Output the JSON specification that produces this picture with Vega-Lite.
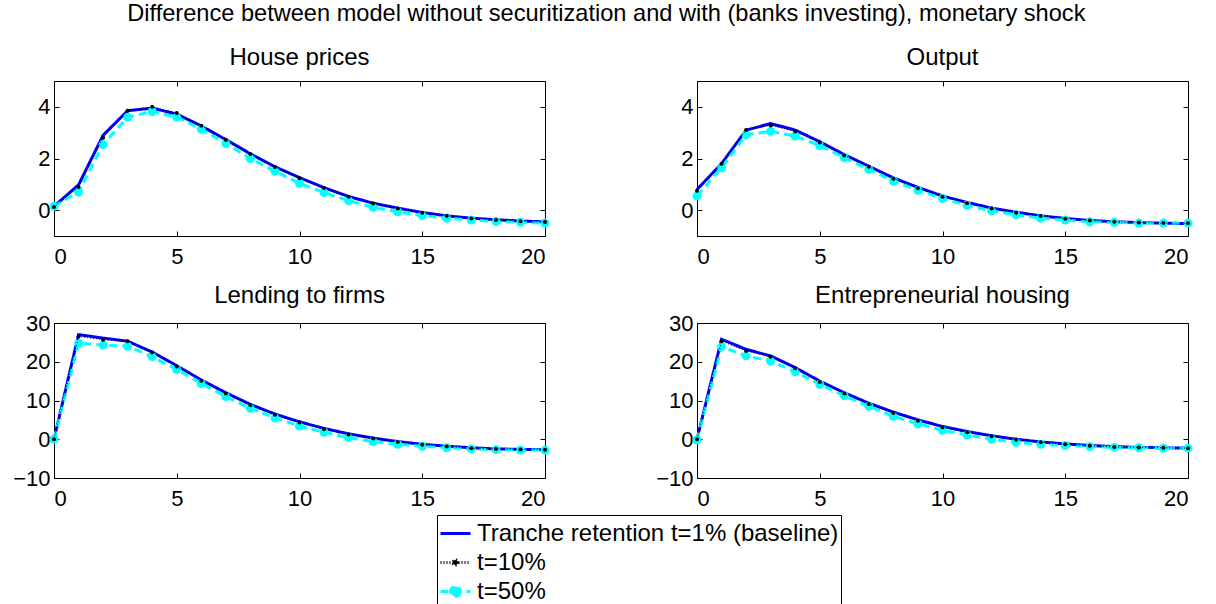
{
  "$schema": "https://vega.github.io/schema/vega-lite/v6.json",
  "autosize": {"type": "pad"},
  "padding": {"left": 12, "top": 2, "right": 0, "bottom": 0},
  "background": "white",
  "title": {"text": "Difference between model without securitization and with (banks investing), monetary shock", "fontSize": 23.6, "font": "Liberation Sans", "fontWeight": "normal", "color": "black", "anchor": "middle", "offset": 19, "dx": 3},
  "config": {
    "view": {"stroke": "black", "strokeWidth": 1},
    "axis": {"labelFont": "Liberation Sans", "labelFontSize": 22, "labelColor": "black", "tickColor": "black", "domainColor": "black", "grid": false, "tickSize": -5, "domain": false},
    "axisX": {"labelPadding": 15},
    "axisY": {"labelPadding": 9},
    "legend": {"labelFont": "Liberation Sans", "labelFontSize": 24, "labelColor": "black", "symbolType": "stroke", "symbolSize": 900, "symbolStrokeWidth": 3, "strokeColor": "black", "fillColor": "white", "padding": 2, "rowPadding": -2, "labelOffset": 5, "labelLimit": 500}
  },
  "data": {"values": [
    {"p":"House prices","t":0,"b":0.15,"k":0.12,"c":0.15},
    {"p":"House prices","t":1,"b":0.98,"k":0.9,"c":0.7},
    {"p":"House prices","t":2,"b":2.9,"k":2.8,"c":2.54},
    {"p":"House prices","t":3,"b":3.85,"k":3.85,"c":3.6},
    {"p":"House prices","t":4,"b":3.95,"k":4.0,"c":3.82},
    {"p":"House prices","t":5,"b":3.72,"k":3.76,"c":3.6},
    {"p":"House prices","t":6,"b":3.26,"k":3.27,"c":3.14},
    {"p":"House prices","t":7,"b":2.73,"k":2.72,"c":2.58},
    {"p":"House prices","t":8,"b":2.18,"k":2.17,"c":2.0},
    {"p":"House prices","t":9,"b":1.68,"k":1.67,"c":1.51},
    {"p":"House prices","t":10,"b":1.26,"k":1.24,"c":1.04},
    {"p":"House prices","t":11,"b":0.87,"k":0.86,"c":0.68},
    {"p":"House prices","t":12,"b":0.53,"k":0.52,"c":0.37},
    {"p":"House prices","t":13,"b":0.27,"k":0.26,"c":0.11},
    {"p":"House prices","t":14,"b":0.08,"k":0.06,"c":-0.06},
    {"p":"House prices","t":15,"b":-0.09,"k":-0.1,"c":-0.21},
    {"p":"House prices","t":16,"b":-0.22,"k":-0.22,"c":-0.31},
    {"p":"House prices","t":17,"b":-0.31,"k":-0.32,"c":-0.38},
    {"p":"House prices","t":18,"b":-0.37,"k":-0.38,"c":-0.44},
    {"p":"House prices","t":19,"b":-0.42,"k":-0.43,"c":-0.47},
    {"p":"House prices","t":20,"b":-0.45,"k":-0.46,"c":-0.5},
    {"p":"Output","t":0,"b":0.8,"k":0.75,"c":0.55},
    {"p":"Output","t":1,"b":1.8,"k":1.8,"c":1.64},
    {"p":"Output","t":2,"b":3.1,"k":3.1,"c":2.92},
    {"p":"Output","t":3,"b":3.35,"k":3.28,"c":3.05},
    {"p":"Output","t":4,"b":3.1,"k":3.05,"c":2.87},
    {"p":"Output","t":5,"b":2.65,"k":2.62,"c":2.5},
    {"p":"Output","t":6,"b":2.15,"k":2.12,"c":2.03},
    {"p":"Output","t":7,"b":1.7,"k":1.68,"c":1.58},
    {"p":"Output","t":8,"b":1.25,"k":1.22,"c":1.13},
    {"p":"Output","t":9,"b":0.88,"k":0.85,"c":0.77},
    {"p":"Output","t":10,"b":0.55,"k":0.52,"c":0.45},
    {"p":"Output","t":11,"b":0.3,"k":0.27,"c":0.19},
    {"p":"Output","t":12,"b":0.08,"k":0.06,"c":-0.03},
    {"p":"Output","t":13,"b":-0.08,"k":-0.1,"c":-0.18},
    {"p":"Output","t":14,"b":-0.22,"k":-0.23,"c":-0.31},
    {"p":"Output","t":15,"b":-0.32,"k":-0.33,"c":-0.38},
    {"p":"Output","t":16,"b":-0.4,"k":-0.4,"c":-0.45},
    {"p":"Output","t":17,"b":-0.45,"k":-0.45,"c":-0.47},
    {"p":"Output","t":18,"b":-0.48,"k":-0.48,"c":-0.5},
    {"p":"Output","t":19,"b":-0.5,"k":-0.5,"c":-0.5},
    {"p":"Output","t":20,"b":-0.52,"k":-0.51,"c":-0.5},
    {"p":"Lending to firms","t":0,"b":0,"k":0,"c":0},
    {"p":"Lending to firms","t":1,"b":27,"k":26.5,"c":24.8},
    {"p":"Lending to firms","t":2,"b":26.1,"k":25.7,"c":24.3},
    {"p":"Lending to firms","t":3,"b":25.3,"k":25.3,"c":24.0},
    {"p":"Lending to firms","t":4,"b":22.5,"k":22.4,"c":21.3},
    {"p":"Lending to firms","t":5,"b":19,"k":18.8,"c":18},
    {"p":"Lending to firms","t":6,"b":15.3,"k":15.1,"c":14.4},
    {"p":"Lending to firms","t":7,"b":12,"k":11.8,"c":11},
    {"p":"Lending to firms","t":8,"b":9,"k":8.8,"c":8},
    {"p":"Lending to firms","t":9,"b":6.5,"k":6.3,"c":5.5},
    {"p":"Lending to firms","t":10,"b":4.5,"k":4.3,"c":3.4},
    {"p":"Lending to firms","t":11,"b":2.8,"k":2.6,"c":1.8},
    {"p":"Lending to firms","t":12,"b":1.4,"k":1.2,"c":0.4},
    {"p":"Lending to firms","t":13,"b":0.3,"k":0.2,"c":-0.6},
    {"p":"Lending to firms","t":14,"b":-0.6,"k":-0.7,"c":-1.3},
    {"p":"Lending to firms","t":15,"b":-1.3,"k":-1.4,"c":-1.8},
    {"p":"Lending to firms","t":16,"b":-1.8,"k":-1.9,"c":-2.2},
    {"p":"Lending to firms","t":17,"b":-2.2,"k":-2.3,"c":-2.5},
    {"p":"Lending to firms","t":18,"b":-2.5,"k":-2.5,"c":-2.7},
    {"p":"Lending to firms","t":19,"b":-2.6,"k":-2.65,"c":-2.8},
    {"p":"Lending to firms","t":20,"b":-2.7,"k":-2.7,"c":-2.8},
    {"p":"Entrepreneurial housing","t":0,"b":0,"k":0,"c":-0.2},
    {"p":"Entrepreneurial housing","t":1,"b":25.8,"k":25.3,"c":23.9},
    {"p":"Entrepreneurial housing","t":2,"b":23.2,"k":22.8,"c":21.5},
    {"p":"Entrepreneurial housing","t":3,"b":21.5,"k":21.3,"c":20.2},
    {"p":"Entrepreneurial housing","t":4,"b":18.5,"k":18.3,"c":17.4},
    {"p":"Entrepreneurial housing","t":5,"b":15,"k":14.8,"c":14.2},
    {"p":"Entrepreneurial housing","t":6,"b":12,"k":11.8,"c":11.2},
    {"p":"Entrepreneurial housing","t":7,"b":9.3,"k":9.1,"c":8.5},
    {"p":"Entrepreneurial housing","t":8,"b":7,"k":6.8,"c":5.9},
    {"p":"Entrepreneurial housing","t":9,"b":5,"k":4.8,"c":4.0},
    {"p":"Entrepreneurial housing","t":10,"b":3.3,"k":3.1,"c":2.3},
    {"p":"Entrepreneurial housing","t":11,"b":2,"k":1.8,"c":1.1},
    {"p":"Entrepreneurial housing","t":12,"b":0.9,"k":0.8,"c":0.0},
    {"p":"Entrepreneurial housing","t":13,"b":0,"k":-0.1,"c":-0.8},
    {"p":"Entrepreneurial housing","t":14,"b":-0.7,"k":-0.8,"c":-1.3},
    {"p":"Entrepreneurial housing","t":15,"b":-1.2,"k":-1.3,"c":-1.6},
    {"p":"Entrepreneurial housing","t":16,"b":-1.6,"k":-1.7,"c":-1.9},
    {"p":"Entrepreneurial housing","t":17,"b":-1.9,"k":-2.0,"c":-2.1},
    {"p":"Entrepreneurial housing","t":18,"b":-2.1,"k":-2.1,"c":-2.2},
    {"p":"Entrepreneurial housing","t":19,"b":-2.2,"k":-2.2,"c":-2.3},
    {"p":"Entrepreneurial housing","t":20,"b":-2.3,"k":-2.3,"c":-2.3}
  ]},
  "columns": 2,
  "spacing": {"row": 87, "column": 152},
  "bounds": "flush",
  "resolve": {"scale": {"x": "independent", "y": "independent", "color": "shared", "strokeDash": "shared"}},
  "concat": [
    {
      "width": 491, "height": 155,
      "title": {"text": "House prices", "fontSize": 24, "font": "Liberation Sans", "fontWeight": "normal", "color": "black", "offset": 11, "anchor": "middle"},
      "transform": [{"filter": "datum.p == 'House prices'"}, {"fold": ["b", "k", "c"], "as": ["s", "v"]}],
      "resolve": {"axis": {"x": "independent", "y": "independent"}},
      "layer": [
        {"transform": [{"filter": "datum.s == 'b'"}], "mark": {"type": "line", "strokeWidth": 3},
         "encoding": {
           "x": {"field": "t", "type": "quantitative", "scale": {"domain": [0, 20], "nice": false}, "axis": {"values": [0, 5, 10, 15, 20], "title": null}},
           "y": {"field": "v", "type": "quantitative", "scale": {"domain": [-1, 5], "nice": false, "zero": false}, "axis": {"values": [0, 2, 4], "title": null}},
           "color": {"field": "s", "type": "nominal", "scale": {"domain": ["b", "k", "c"], "range": ["#0000FF", "#000000", "#00FFFF"]}, "legend": {"orient": "none", "legendX": 383, "legendY": 434, "title": null, "labelExpr": "datum.value == 'b' ? 'Tranche retention t=1% (baseline)' : datum.value == 'k' ? 't=10%' : 't=50%'", "encode": {"symbols": {"update": {"shape": {"signal": "datum.value == 'b' ? 'stroke' : datum.value == 'k' ? 'M-1,0H1M0.17,0A0.17,0.17 0 1 1 -0.17,0A0.17,0.17 0 1 1 0.17,0Z' : 'M-1,0H1M0.33,0A0.33,0.33 0 1 1 -0.33,0A0.33,0.33 0 1 1 0.33,0Z'"}, "fill": {"signal": "datum.value == 'b' ? 'transparent' : datum.value == 'k' ? '#000000' : '#00FFFF'"}, "fillOpacity": {"value": 1}}}}}},
           "strokeDash": {"field": "s", "type": "nominal", "scale": {"domain": ["b", "k", "c"], "range": [[1, 0], [1, 2], [8, 5]]}, "legend": {"orient": "none", "legendX": 383, "legendY": 434, "title": null, "labelExpr": "datum.value == 'b' ? 'Tranche retention t=1% (baseline)' : datum.value == 'k' ? 't=10%' : 't=50%'", "encode": {"symbols": {"update": {"shape": {"signal": "datum.value == 'b' ? 'stroke' : datum.value == 'k' ? 'M-1,0H1M0.17,0A0.17,0.17 0 1 1 -0.17,0A0.17,0.17 0 1 1 0.17,0Z' : 'M-1,0H1M0.33,0A0.33,0.33 0 1 1 -0.33,0A0.33,0.33 0 1 1 0.33,0Z'"}, "fill": {"signal": "datum.value == 'b' ? 'transparent' : datum.value == 'k' ? '#000000' : '#00FFFF'"}, "fillOpacity": {"value": 1}}}}}}
         }},
        {"transform": [{"filter": "datum.s == 'c'"}], "mark": {"type": "line", "strokeWidth": 3},
         "encoding": {
           "x": {"field": "t", "type": "quantitative", "axis": null},
           "y": {"field": "v", "type": "quantitative", "axis": null},
           "color": {"field": "s", "type": "nominal"},
           "strokeDash": {"field": "s", "type": "nominal"}
         }},
        {"transform": [{"filter": "datum.s == 'c'"}], "mark": {"type": "point", "filled": true, "color": "#00FFFF", "size": 80, "opacity": 1},
         "encoding": {
           "x": {"field": "t", "type": "quantitative", "axis": null},
           "y": {"field": "v", "type": "quantitative", "axis": null}
         }},
        {"transform": [{"filter": "datum.s == 'k'"}], "mark": {"type": "line", "strokeWidth": 1},
         "encoding": {
           "x": {"field": "t", "type": "quantitative", "axis": null},
           "y": {"field": "v", "type": "quantitative", "axis": null},
           "color": {"field": "s", "type": "nominal"},
           "strokeDash": {"field": "s", "type": "nominal"}
         }},
        {"transform": [{"filter": "datum.s == 'k'"}], "mark": {"type": "point", "filled": true, "color": "black", "size": 16, "opacity": 1},
         "encoding": {
           "x": {"field": "t", "type": "quantitative", "axis": {"orient": "top", "labels": false, "values": [0, 5, 10, 15, 20], "title": null}},
           "y": {"field": "v", "type": "quantitative", "axis": {"orient": "right", "labels": false, "values": [0, 2, 4], "title": null}}
         }}
      ]
    },
    {
      "width": 491, "height": 155,
      "title": {"text": "Output", "fontSize": 24, "font": "Liberation Sans", "fontWeight": "normal", "color": "black", "offset": 11, "anchor": "middle"},
      "transform": [{"filter": "datum.p == 'Output'"}, {"fold": ["b", "k", "c"], "as": ["s", "v"]}],
      "resolve": {"axis": {"x": "independent", "y": "independent"}},
      "layer": [
        {"transform": [{"filter": "datum.s == 'b'"}], "mark": {"type": "line", "strokeWidth": 3},
         "encoding": {
           "x": {"field": "t", "type": "quantitative", "scale": {"domain": [0, 20], "nice": false}, "axis": {"values": [0, 5, 10, 15, 20], "title": null}},
           "y": {"field": "v", "type": "quantitative", "scale": {"domain": [-1, 5], "nice": false, "zero": false}, "axis": {"values": [0, 2, 4], "title": null}},
           "color": {"field": "s", "type": "nominal"},
           "strokeDash": {"field": "s", "type": "nominal"}
         }},
        {"transform": [{"filter": "datum.s == 'c'"}], "mark": {"type": "line", "strokeWidth": 3},
         "encoding": {
           "x": {"field": "t", "type": "quantitative", "axis": null},
           "y": {"field": "v", "type": "quantitative", "axis": null},
           "color": {"field": "s", "type": "nominal"},
           "strokeDash": {"field": "s", "type": "nominal"}
         }},
        {"transform": [{"filter": "datum.s == 'c'"}], "mark": {"type": "point", "filled": true, "color": "#00FFFF", "size": 80, "opacity": 1},
         "encoding": {
           "x": {"field": "t", "type": "quantitative", "axis": null},
           "y": {"field": "v", "type": "quantitative", "axis": null}
         }},
        {"transform": [{"filter": "datum.s == 'k'"}], "mark": {"type": "line", "strokeWidth": 1},
         "encoding": {
           "x": {"field": "t", "type": "quantitative", "axis": null},
           "y": {"field": "v", "type": "quantitative", "axis": null},
           "color": {"field": "s", "type": "nominal"},
           "strokeDash": {"field": "s", "type": "nominal"}
         }},
        {"transform": [{"filter": "datum.s == 'k'"}], "mark": {"type": "point", "filled": true, "color": "black", "size": 16, "opacity": 1},
         "encoding": {
           "x": {"field": "t", "type": "quantitative", "axis": {"orient": "top", "labels": false, "values": [0, 5, 10, 15, 20], "title": null}},
           "y": {"field": "v", "type": "quantitative", "axis": {"orient": "right", "labels": false, "values": [0, 2, 4], "title": null}}
         }}
      ]
    },
    {
      "width": 491, "height": 155,
      "title": {"text": "Lending to firms", "fontSize": 24, "font": "Liberation Sans", "fontWeight": "normal", "color": "black", "offset": 4, "anchor": "middle"},
      "transform": [{"filter": "datum.p == 'Lending to firms'"}, {"fold": ["b", "k", "c"], "as": ["s", "v"]}],
      "resolve": {"axis": {"x": "independent", "y": "independent"}},
      "layer": [
        {"transform": [{"filter": "datum.s == 'b'"}], "mark": {"type": "line", "strokeWidth": 3},
         "encoding": {
           "x": {"field": "t", "type": "quantitative", "scale": {"domain": [0, 20], "nice": false}, "axis": {"values": [0, 5, 10, 15, 20], "title": null}},
           "y": {"field": "v", "type": "quantitative", "scale": {"domain": [-10, 30], "nice": false, "zero": false}, "axis": {"values": [-10, 0, 10, 20, 30], "title": null}},
           "color": {"field": "s", "type": "nominal"},
           "strokeDash": {"field": "s", "type": "nominal"}
         }},
        {"transform": [{"filter": "datum.s == 'c'"}], "mark": {"type": "line", "strokeWidth": 3},
         "encoding": {
           "x": {"field": "t", "type": "quantitative", "axis": null},
           "y": {"field": "v", "type": "quantitative", "axis": null},
           "color": {"field": "s", "type": "nominal"},
           "strokeDash": {"field": "s", "type": "nominal"}
         }},
        {"transform": [{"filter": "datum.s == 'c'"}], "mark": {"type": "point", "filled": true, "color": "#00FFFF", "size": 80, "opacity": 1},
         "encoding": {
           "x": {"field": "t", "type": "quantitative", "axis": null},
           "y": {"field": "v", "type": "quantitative", "axis": null}
         }},
        {"transform": [{"filter": "datum.s == 'k'"}], "mark": {"type": "line", "strokeWidth": 1},
         "encoding": {
           "x": {"field": "t", "type": "quantitative", "axis": null},
           "y": {"field": "v", "type": "quantitative", "axis": null},
           "color": {"field": "s", "type": "nominal"},
           "strokeDash": {"field": "s", "type": "nominal"}
         }},
        {"transform": [{"filter": "datum.s == 'k'"}], "mark": {"type": "point", "filled": true, "color": "black", "size": 16, "opacity": 1},
         "encoding": {
           "x": {"field": "t", "type": "quantitative", "axis": {"orient": "top", "labels": false, "values": [0, 5, 10, 15, 20], "title": null}},
           "y": {"field": "v", "type": "quantitative", "axis": {"orient": "right", "labels": false, "values": [-10, 0, 10, 20, 30], "title": null}}
         }}
      ]
    },
    {
      "width": 491, "height": 155,
      "title": {"text": "Entrepreneurial housing", "fontSize": 24, "font": "Liberation Sans", "fontWeight": "normal", "color": "black", "offset": 4, "anchor": "middle"},
      "transform": [{"filter": "datum.p == 'Entrepreneurial housing'"}, {"fold": ["b", "k", "c"], "as": ["s", "v"]}],
      "resolve": {"axis": {"x": "independent", "y": "independent"}},
      "layer": [
        {"transform": [{"filter": "datum.s == 'b'"}], "mark": {"type": "line", "strokeWidth": 3},
         "encoding": {
           "x": {"field": "t", "type": "quantitative", "scale": {"domain": [0, 20], "nice": false}, "axis": {"values": [0, 5, 10, 15, 20], "title": null}},
           "y": {"field": "v", "type": "quantitative", "scale": {"domain": [-10, 30], "nice": false, "zero": false}, "axis": {"values": [-10, 0, 10, 20, 30], "title": null}},
           "color": {"field": "s", "type": "nominal"},
           "strokeDash": {"field": "s", "type": "nominal"}
         }},
        {"transform": [{"filter": "datum.s == 'c'"}], "mark": {"type": "line", "strokeWidth": 3},
         "encoding": {
           "x": {"field": "t", "type": "quantitative", "axis": null},
           "y": {"field": "v", "type": "quantitative", "axis": null},
           "color": {"field": "s", "type": "nominal"},
           "strokeDash": {"field": "s", "type": "nominal"}
         }},
        {"transform": [{"filter": "datum.s == 'c'"}], "mark": {"type": "point", "filled": true, "color": "#00FFFF", "size": 80, "opacity": 1},
         "encoding": {
           "x": {"field": "t", "type": "quantitative", "axis": null},
           "y": {"field": "v", "type": "quantitative", "axis": null}
         }},
        {"transform": [{"filter": "datum.s == 'k'"}], "mark": {"type": "line", "strokeWidth": 1},
         "encoding": {
           "x": {"field": "t", "type": "quantitative", "axis": null},
           "y": {"field": "v", "type": "quantitative", "axis": null},
           "color": {"field": "s", "type": "nominal"},
           "strokeDash": {"field": "s", "type": "nominal"}
         }},
        {"transform": [{"filter": "datum.s == 'k'"}], "mark": {"type": "point", "filled": true, "color": "black", "size": 16, "opacity": 1},
         "encoding": {
           "x": {"field": "t", "type": "quantitative", "axis": {"orient": "top", "labels": false, "values": [0, 5, 10, 15, 20], "title": null}},
           "y": {"field": "v", "type": "quantitative", "axis": {"orient": "right", "labels": false, "values": [-10, 0, 10, 20, 30], "title": null}}
         }}
      ]
    }
  ]
}
